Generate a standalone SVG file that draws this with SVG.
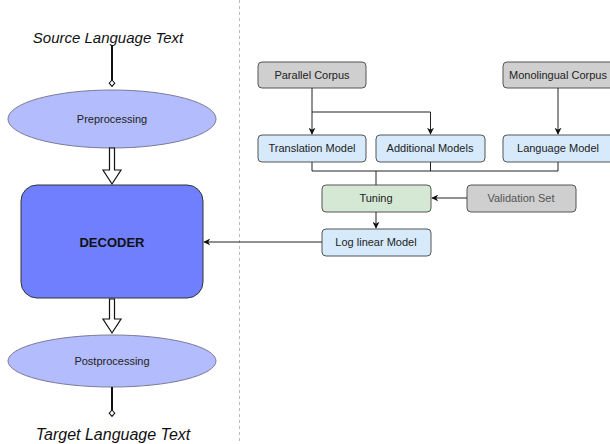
<svg xmlns="http://www.w3.org/2000/svg" width="610" height="444" viewBox="0 0 610 444">
<defs>
<style>
.lbl{font-family:"Liberation Sans",Arial,sans-serif;font-size:11px;fill:#222;text-anchor:middle}
.big{font-family:"Liberation Sans",Arial,sans-serif;font-style:italic;fill:#111;text-anchor:middle}
.gray{fill:#cfcfcf;stroke:#555;stroke-width:1}
.blue{fill:#d6eafc;stroke:#555;stroke-width:1}
.green{fill:#d5e8d4;stroke:#555;stroke-width:1}
.ell{fill:#b3bcfc;stroke:#7a7a9a;stroke-width:1}
.con{fill:none;stroke:#222;stroke-width:1}
.blk{fill:#fff;stroke:#111;stroke-width:1.2}
</style>
<marker id="ah" viewBox="0 0 10 10" refX="9" refY="5" markerWidth="7" markerHeight="7" markerUnits="userSpaceOnUse" orient="auto">
<path d="M0,0 L10,5 L0,10 L3,5 Z" fill="#111"/>
</marker>
<marker id="dm" viewBox="0 0 10 10" refX="1" refY="5" markerWidth="8" markerHeight="8" markerUnits="userSpaceOnUse" orient="auto">
<path d="M1,5 L5,1.5 L9,5 L5,8.5 Z" fill="#fff" stroke="#111" stroke-width="1.3"/>
</marker>
</defs>
<rect width="610" height="444" fill="#fff"/>
<line x1="239.5" y1="0" x2="239.5" y2="444" stroke="#bbb" stroke-width="1" stroke-dasharray="3,3"/>

<g id="source"><text class="big" x="108" y="43" font-size="15">Source Language Text</text></g>
<g id="preprocessing"><ellipse class="ell" cx="112" cy="119" rx="104" ry="29"/><text class="lbl" x="112" y="123">Preprocessing</text></g>
<g id="decoder"><rect x="21" y="185" width="182" height="113" rx="16" fill="#6f7ffd" stroke="#333" stroke-width="1"/><text x="112" y="247" text-anchor="middle" font-family="'Liberation Sans',Arial,sans-serif" font-size="13" font-weight="bold" fill="#111">DECODER</text></g>
<g id="postprocessing"><ellipse class="ell" cx="112" cy="361" rx="104" ry="26"/><text class="lbl" x="112" y="365">Postprocessing</text></g>
<g id="target"><text class="big" x="113" y="440" font-size="16">Target Language Text</text></g>

<g id="parallel"><rect class="gray" x="258" y="62" width="108" height="26" rx="4"/><text class="lbl" x="312" y="79">Parallel Corpus</text></g>
<g id="monolingual"><rect class="gray" x="503" y="62" width="112" height="26" rx="4"/><text class="lbl" x="558" y="79">Monolingual Corpus</text></g>
<g id="translation"><rect class="blue" x="258" y="135" width="108" height="27" rx="4"/><text class="lbl" x="312" y="152">Translation Model</text></g>
<g id="additional"><rect class="blue" x="376" y="135" width="109" height="27" rx="4"/><text class="lbl" x="430" y="152">Additional Models</text></g>
<g id="language"><rect class="blue" x="503" y="135" width="112" height="27" rx="4"/><text class="lbl" x="558" y="152">Language Model</text></g>
<g id="tuning"><rect class="green" x="322" y="185" width="109" height="27" rx="4"/><text class="lbl" x="376" y="202">Tuning</text></g>
<g id="validation"><rect class="gray" x="467" y="185" width="109" height="27" rx="4"/><text class="lbl" x="521" y="202" style="fill:#555">Validation Set</text></g>
<g id="loglinear"><rect class="blue" x="322" y="229" width="109" height="27" rx="4"/><text class="lbl" x="376" y="246">Log linear Model</text></g>

<g id="connectors">
<line x1="112" y1="46" x2="112" y2="80" stroke="#111" stroke-width="2" marker-end="url(#dm)"/>
<line x1="112" y1="387" x2="112" y2="410" stroke="#111" stroke-width="2" marker-end="url(#dm)"/>
<path class="blk" d="M109.5,148 L114.5,148 L114.5,170 L121,170 L112,184 L103,170 L109.5,170 Z"/>
<path class="blk" d="M109.5,299 L114.5,299 L114.5,319 L121,319 L112,333 L103,319 L109.5,319 Z"/>
<path class="con" d="M312,88 V134" marker-end="url(#ah)"/>
<path class="con" d="M312,112 H430.5 V134" marker-end="url(#ah)"/>
<path class="con" d="M558,88 V134" stroke="#555" marker-end="url(#ah)"/>
<path class="con" d="M312,162 V171 H558 V162 M430.5,162 V171 M376,171 V185" stroke="#222"/>
<path class="con" d="M467,198 H432" stroke="#444" marker-end="url(#ah)"/>
<path class="con" d="M376,212 V228" marker-end="url(#ah)"/>
<path class="con" d="M322,242 H204" stroke="#444" marker-end="url(#ah)"/>
</g>
</svg>
